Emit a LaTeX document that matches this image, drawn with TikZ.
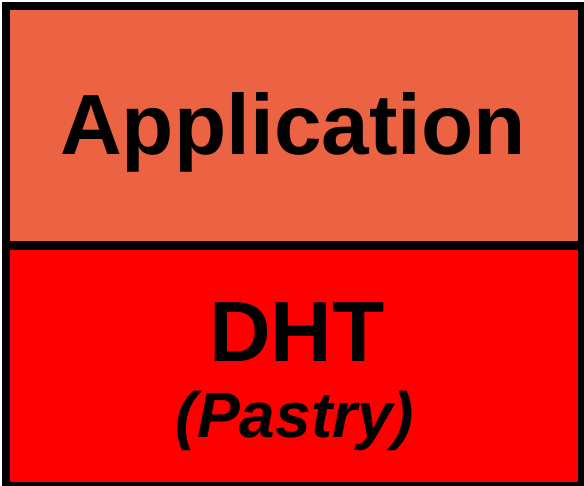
\documentclass[tikz,border=0pt]{standalone}
\usepackage{fontspec}
\setmainfont{Liberation Sans}
\definecolor{appfill}{RGB}{235,99,67}
\definecolor{dhtfill}{RGB}{255,0,0}
\begin{document}
\begin{tikzpicture}[x=1pt,y=1pt,
  layer/.style={draw=black,line width=8.5pt,minimum width=576pt,inner sep=0pt,outer sep=0pt},
  bigtext/.style={font=\fontsize{85.5}{85.5}\selectfont\bfseries,anchor=base,inner sep=0pt},
  subtext/.style={font=\fontsize{64}{64}\selectfont\bfseries\itshape,anchor=base,inner sep=0pt}]
  \useasboundingbox (0,0) rectangle (584,485);
  % protocol stack: application layer on top of the DHT layer
  \node[layer,fill=dhtfill,minimum height=240.5pt] (dht) at (294,119.25) {};
  \node[layer,fill=appfill,minimum height=239.5pt] (app) at (294,359.25) {};
  \node[bigtext] (apptext) at (293,330) {Application};
  \node[bigtext] (dhttext) at (297,123) {DHT};
  \node[subtext] (pastry) at (295,48) {(Pastry)};
\end{tikzpicture}
\end{document}
